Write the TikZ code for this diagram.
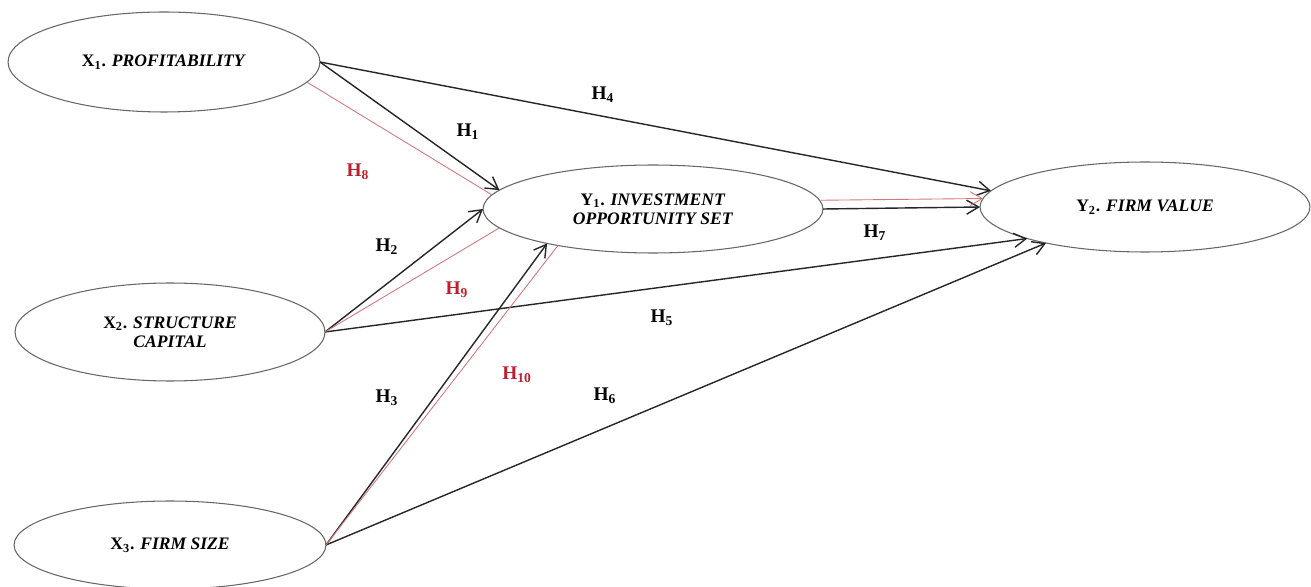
\documentclass[tikz,border=0pt]{standalone}
\usepackage{fontspec}
\setmainfont{Liberation Serif}
\usetikzlibrary{shapes.geometric,arrows.meta}
\definecolor{hypred}{RGB}{190,30,45}
\definecolor{pathred}{RGB}{210,120,120}
\tikzset{%
  >={Straight Barb[length=2.4mm,width=2.8mm]}, % open arrow tips
  construct/.style={ellipse,draw=black!60,line width=0.6pt,inner sep=0pt,
    outer sep=0pt,align=center,font=\fontsize{10}{11}\selectfont\bfseries},%
  direct/.style={->,line width=0.8pt,black!85},%
  mediated/.style={line width=0.5pt,pathred},%
  hlabel/.style={font=\fontsize{11}{12}\selectfont\bfseries},%
  hlabelred/.style={hlabel,text=hypred}%
}

\begin{document}
\begin{tikzpicture}[x=0.02cm,y=-0.02cm] % one unit = one pixel of the layout
\useasboundingbox (0,0) rectangle (1311,587);

% the five constructs
\node[construct,minimum width=6.24cm,minimum height=2cm] (X1) at (164,62)
  {X\textsubscript{1}. \textit{PROFITABILITY}};
\node[construct,minimum width=6.2cm,minimum height=1.96cm] (X2) at (170,332)
  {X\textsubscript{2}. \textit{STRUCTURE}\\\textit{CAPITAL}};
\node[construct,minimum width=6.24cm,minimum height=1.76cm] (X3) at (170,545)
  {X\textsubscript{3}. \textit{FIRM SIZE}};
\node[construct,minimum width=6.8cm,minimum height=1.76cm] (Y1) at (653,209)
  {Y\textsubscript{1}. \textit{INVESTMENT}\\\textit{OPPORTUNITY SET}};
\node[construct,minimum width=6.6cm,minimum height=1.8cm] (Y2) at (1145,207)
  {Y\textsubscript{2}. \textit{FIRM VALUE}};

% direct paths
\draw[direct] (X1.east) -- (Y1.173);
\draw[direct] (X1.east) -- (Y2.174);
\draw[direct] (X2.east) -- (Y1.180);
\draw[direct] (X2.east) -- (Y2.195);
\draw[direct] (X3.east) -- (Y1.198);
\draw[direct] (X3.east) -- (Y2.200);
\draw[direct] (Y1.0) -- (Y2.180);

% mediated paths
\draw[mediated] (X1.352) -- (Y1.175);
\draw[mediated] (X2.east) -- (Y1.187);
\draw[mediated] (X3.east) -- (Y1.201);
\draw[mediated,->] (Y1.3) -- (Y2.177);

% hypotheses
\node[hlabel] (h1) at (468,132) {H\textsubscript{1}};
\node[hlabel] (h2) at (387,247) {H\textsubscript{2}};
\node[hlabel] (h3) at (387,398) {H\textsubscript{3}};
\node[hlabel] (h4) at (603,95) {H\textsubscript{4}};
\node[hlabel] (h5) at (662,318) {H\textsubscript{5}};
\node[hlabel] (h6) at (605,396) {H\textsubscript{6}};
\node[hlabel] (h7) at (875,233) {H\textsubscript{7}};
\node[hlabelred] (h8) at (358,172) {H\textsubscript{8}};
\node[hlabelred] (h9) at (457,290) {H\textsubscript{9}};
\node[hlabelred] (h10) at (517,375) {H\textsubscript{10}};

\end{tikzpicture}
\end{document}
